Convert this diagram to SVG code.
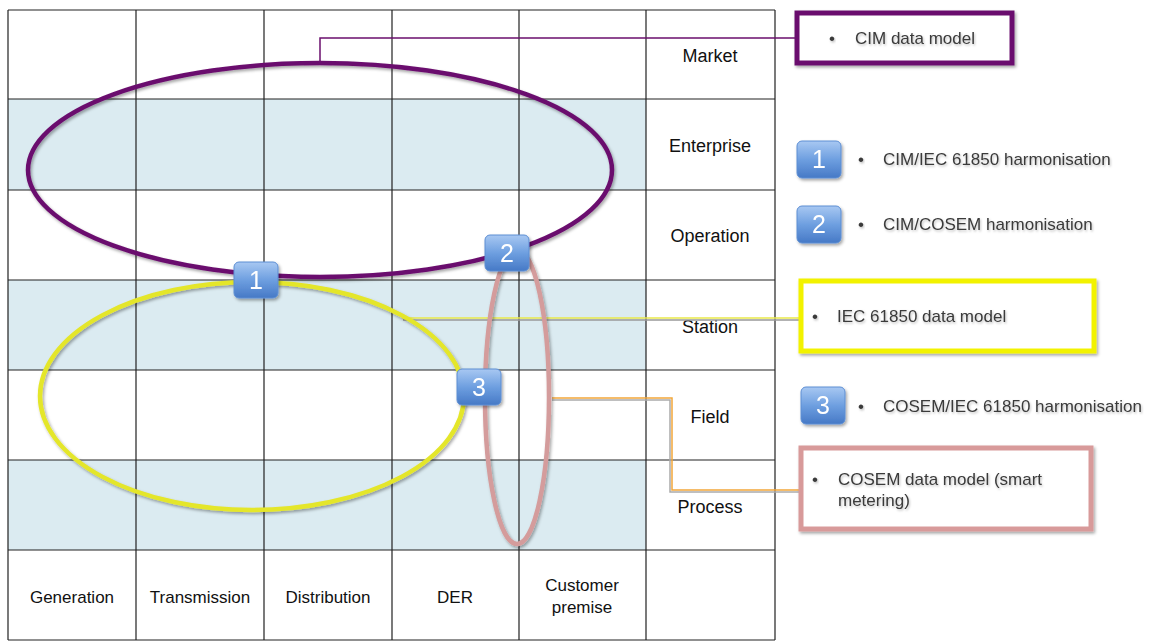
<svg xmlns="http://www.w3.org/2000/svg" width="1157" height="642" viewBox="0 0 1157 642">
<defs>
<filter id="sh" x="-10%" y="-10%" width="120%" height="130%"><feDropShadow dx="1.5" dy="2" stdDeviation="1.5" flood-color="#000" flood-opacity="0.35"/></filter>
<filter id="tsh" x="-5%" y="-20%" width="110%" height="150%"><feDropShadow dx="1" dy="1.5" stdDeviation="1" flood-color="#000" flood-opacity="0.25"/></filter>
<linearGradient id="bg" x1="0" y1="0" x2="0" y2="1"><stop offset="0" stop-color="#a8c8f2"/><stop offset="0.5" stop-color="#6e9fe0"/><stop offset="1" stop-color="#4679c6"/></linearGradient>
</defs>
<style>
.grid{stroke:#222;stroke-width:1.2;fill:none}
.band{fill:#dbebf1}
.row{font-family:"Liberation Sans",Arial,sans-serif;font-size:18px;fill:#111;text-anchor:middle}
.col{font-family:"Liberation Sans",Arial,sans-serif;font-size:17px;fill:#111;text-anchor:middle}
.leg{font-family:"Liberation Sans",Arial,sans-serif;font-size:17px;fill:#3a3a3a}
.badge rect{fill:url(#bg);stroke:#5d8ed3;stroke-width:1}
.badge text{font-family:"Liberation Sans",Arial,sans-serif;font-size:25px;fill:#fff;text-anchor:middle}
.ell{fill:none;stroke-width:4.5}
.con{fill:none;stroke-width:1.5}
</style>
<rect width="1157" height="642" fill="#fff"/>
<g id="grid">
<rect class="band" x="8" y="99" width="638" height="91"/>
<rect class="band" x="8" y="280" width="638" height="90"/>
<rect class="band" x="8" y="460" width="638" height="90"/>
<path class="grid" d="M8 10H775M8 99H775M8 190H775M8 280H775M8 370H775M8 460H775M8 550H775M8 640H775M8 10V640M136 10V640M264 10V640M392 10V640M519 10V640M646 10V640M775 10V640"/>
</g>
<g id="row-labels">
<text class="row" x="710" y="62">Market</text>
<text class="row" x="710" y="152">Enterprise</text>
<text class="row" x="710" y="242">Operation</text>
<text class="row" x="710" y="333">Station</text>
<text class="row" x="710" y="423">Field</text>
<text class="row" x="710" y="513">Process</text>
</g>
<g id="col-labels">
<text class="col" x="72" y="603">Generation</text>
<text class="col" x="200" y="603">Transmission</text>
<text class="col" x="328" y="603">Distribution</text>
<text class="col" x="455" y="603">DER</text>
<text class="col" x="582" y="591">Customer</text>
<text class="col" x="582" y="613">premise</text>
</g>
<g id="connectors">
<path class="con" stroke="#6b0f6e" d="M320 63V38H796"/>
<path class="con" stroke="#999" stroke-width="1" d="M403 320H800"/>
<path class="con" stroke="#e8e84a" d="M402 318H800"/>
<path class="con" stroke="#aaa" stroke-width="1" d="M552 400H670V492H800"/>
<path class="con" stroke="#f2a73a" d="M552 398H672V490H800"/>
</g>
<g id="cim-ellipse"><ellipse class="ell" cx="320" cy="170" rx="292" ry="107" stroke="#6b0f6e" filter="url(#sh)"/></g>
<g id="iec-ellipse"><ellipse class="ell" cx="252" cy="396" rx="212" ry="114" stroke="#e4e62c" filter="url(#sh)"/></g>
<g id="cosem-ellipse"><ellipse class="ell" cx="517" cy="397" rx="32" ry="147" stroke="#d49c9c" filter="url(#sh)"/></g>
<g id="badge1" class="badge" filter="url(#sh)"><rect x="234" y="262" width="44" height="36" rx="5"/><text x="256" y="289">1</text></g>
<g id="badge2" class="badge" filter="url(#sh)"><rect x="485" y="235" width="44" height="36" rx="5"/><text x="507" y="262">2</text></g>
<g id="badge3" class="badge" filter="url(#sh)"><rect x="457" y="369" width="44" height="36" rx="5"/><text x="479" y="396">3</text></g>
<g id="cim-box">
<rect x="797" y="13" width="215" height="50" fill="#fff" stroke="#6b0f6e" stroke-width="5" filter="url(#sh)"/>
<text class="leg" x="829" y="44" filter="url(#tsh)">•</text>
<text class="leg" x="855" y="44" filter="url(#tsh)">CIM data model</text>
</g>
<g id="legend1">
<g class="badge" filter="url(#sh)"><rect x="797" y="141" width="44" height="37" rx="5"/><text x="819" y="168">1</text></g>
<text class="leg" x="858" y="165" filter="url(#tsh)">•</text>
<text class="leg" x="883" y="165" filter="url(#tsh)">CIM/IEC 61850 harmonisation</text>
</g>
<g id="legend2">
<g class="badge" filter="url(#sh)"><rect x="797" y="206" width="44" height="37" rx="5"/><text x="819" y="233">2</text></g>
<text class="leg" x="858" y="230" filter="url(#tsh)">•</text>
<text class="leg" x="883" y="230" filter="url(#tsh)">CIM/COSEM harmonisation</text>
</g>
<g id="iec-box">
<rect x="801" y="281" width="293" height="70" fill="#fff" stroke="#f2f200" stroke-width="5" filter="url(#sh)"/>
<text class="leg" x="812" y="322" filter="url(#tsh)">•</text>
<text class="leg" x="837" y="322" filter="url(#tsh)">IEC 61850  data model</text>
</g>
<g id="legend3">
<g class="badge" filter="url(#sh)"><rect x="801" y="387" width="44" height="37" rx="5"/><text x="823" y="414">3</text></g>
<text class="leg" x="858" y="412" filter="url(#tsh)">•</text>
<text class="leg" x="883" y="412" filter="url(#tsh)">COSEM/IEC 61850 harmonisation</text>
</g>
<g id="cosem-box">
<rect x="801" y="448" width="290" height="81" fill="#fff" stroke="#d89a9a" stroke-width="5" filter="url(#sh)"/>
<text class="leg" x="812" y="485" filter="url(#tsh)">•</text>
<text class="leg" x="838" y="485" filter="url(#tsh)">COSEM data model (smart</text>
<text class="leg" x="838" y="506" filter="url(#tsh)">metering)</text>
</g>
<text x="1124" y="654" font-family="Liberation Sans,Arial,sans-serif" font-size="17" font-style="italic" fill="#444">IEC</text>
</svg>
